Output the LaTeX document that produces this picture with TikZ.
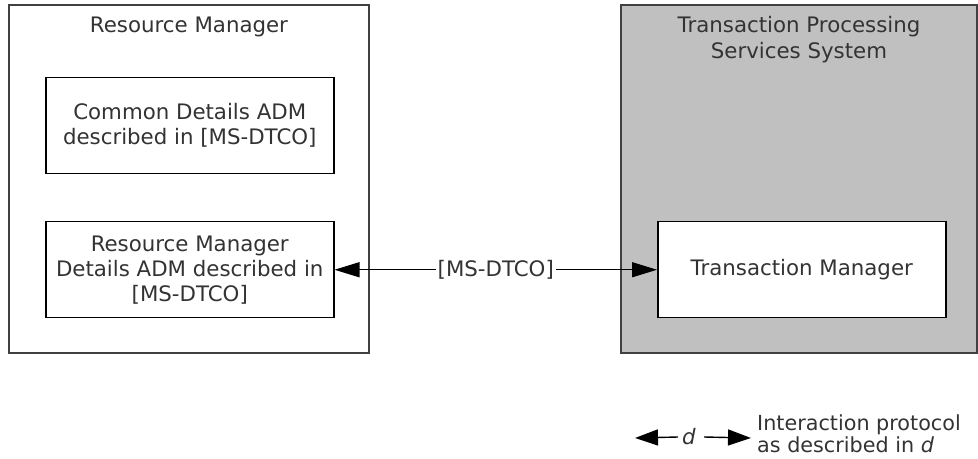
\documentclass[tikz,border=0pt]{standalone}
\usepackage{fontspec}
\setmainfont{DejaVu Sans}
\usetikzlibrary{arrows.meta}
\definecolor{txt}{HTML}{333333}
\definecolor{shade}{HTML}{C0C0C0}
\tikzset{
  outerbox/.style={draw=black!75, line width=1.8bp},
  innerbox/.style={draw=black, line width=1.5bp, fill=white},
  lbl/.style={text=txt, font=\fontsize{21.4}{25}\selectfont, align=center, inner sep=0pt},
  conn/.style={line width=1.4bp, black, {Triangle[length=25bp,width=15bp]}-{Triangle[length=25bp,width=15bp]}},
  legarrow/.style={line width=1.4bp, black, -{Triangle[length=23bp,width=16bp]}}
}
\begin{document}
\begin{tikzpicture}[x=1bp, y=-1bp]
\useasboundingbox (0,0) rectangle (978,459);

% Resource Manager container
\draw[outerbox, fill=white] (9,5) rectangle (369,353);
\node[lbl] (rmtitle) at (189,27) {Resource Manager};
\node[innerbox, minimum width=288bp, minimum height=96bp, anchor=north west] (cda) at (45,77) {};
\node[lbl] (cdatext) at (cda.center) {Common Details ADM\\described in {[}MS-DTCO{]}};
\node[innerbox, minimum width=288bp, minimum height=96bp, anchor=north west] (rmd) at (45,221) {};
\node[lbl] (rmdtext) at (rmd.center) {Resource Manager\\Details ADM described in\\{[}MS-DTCO{]}};

% Transaction Processing Services System container
\draw[outerbox, fill=shade] (621,5) rectangle (977,353);
\node[lbl, font=\fontsize{21.4}{26}\selectfont] (tpstitle) at (799,40) {Transaction Processing\\Services System};
\node[innerbox, minimum width=288bp, minimum height=96bp, anchor=north west] (tm) at (657,221) {};
\node[lbl] (tmtext) at (tm.center) {Transaction Manager};

% Protocol connector
\draw[conn] (rmd.east) -- (tm.west)
  node[midway, lbl, fill=white, inner xsep=2bp, inner ysep=3bp] (proto) {{[}MS-DTCO{]}};

% Legend
\node[lbl] (legd) at (689,437) {\itshape d};
\coordinate (legL) at (635,438);
\coordinate (legR) at (751,438);
\draw[legarrow] ([xshift=-11bp]legd.center) -- (legL);
\draw[legarrow] ([xshift=15bp]legd.center) -- (legR);
\node[lbl, align=left, anchor=west, font=\fontsize{20.8}{22}\selectfont] (legtext) at (757,434)
  {Interaction protocol\\as described in \textit{d}};
\end{tikzpicture}
\end{document}
